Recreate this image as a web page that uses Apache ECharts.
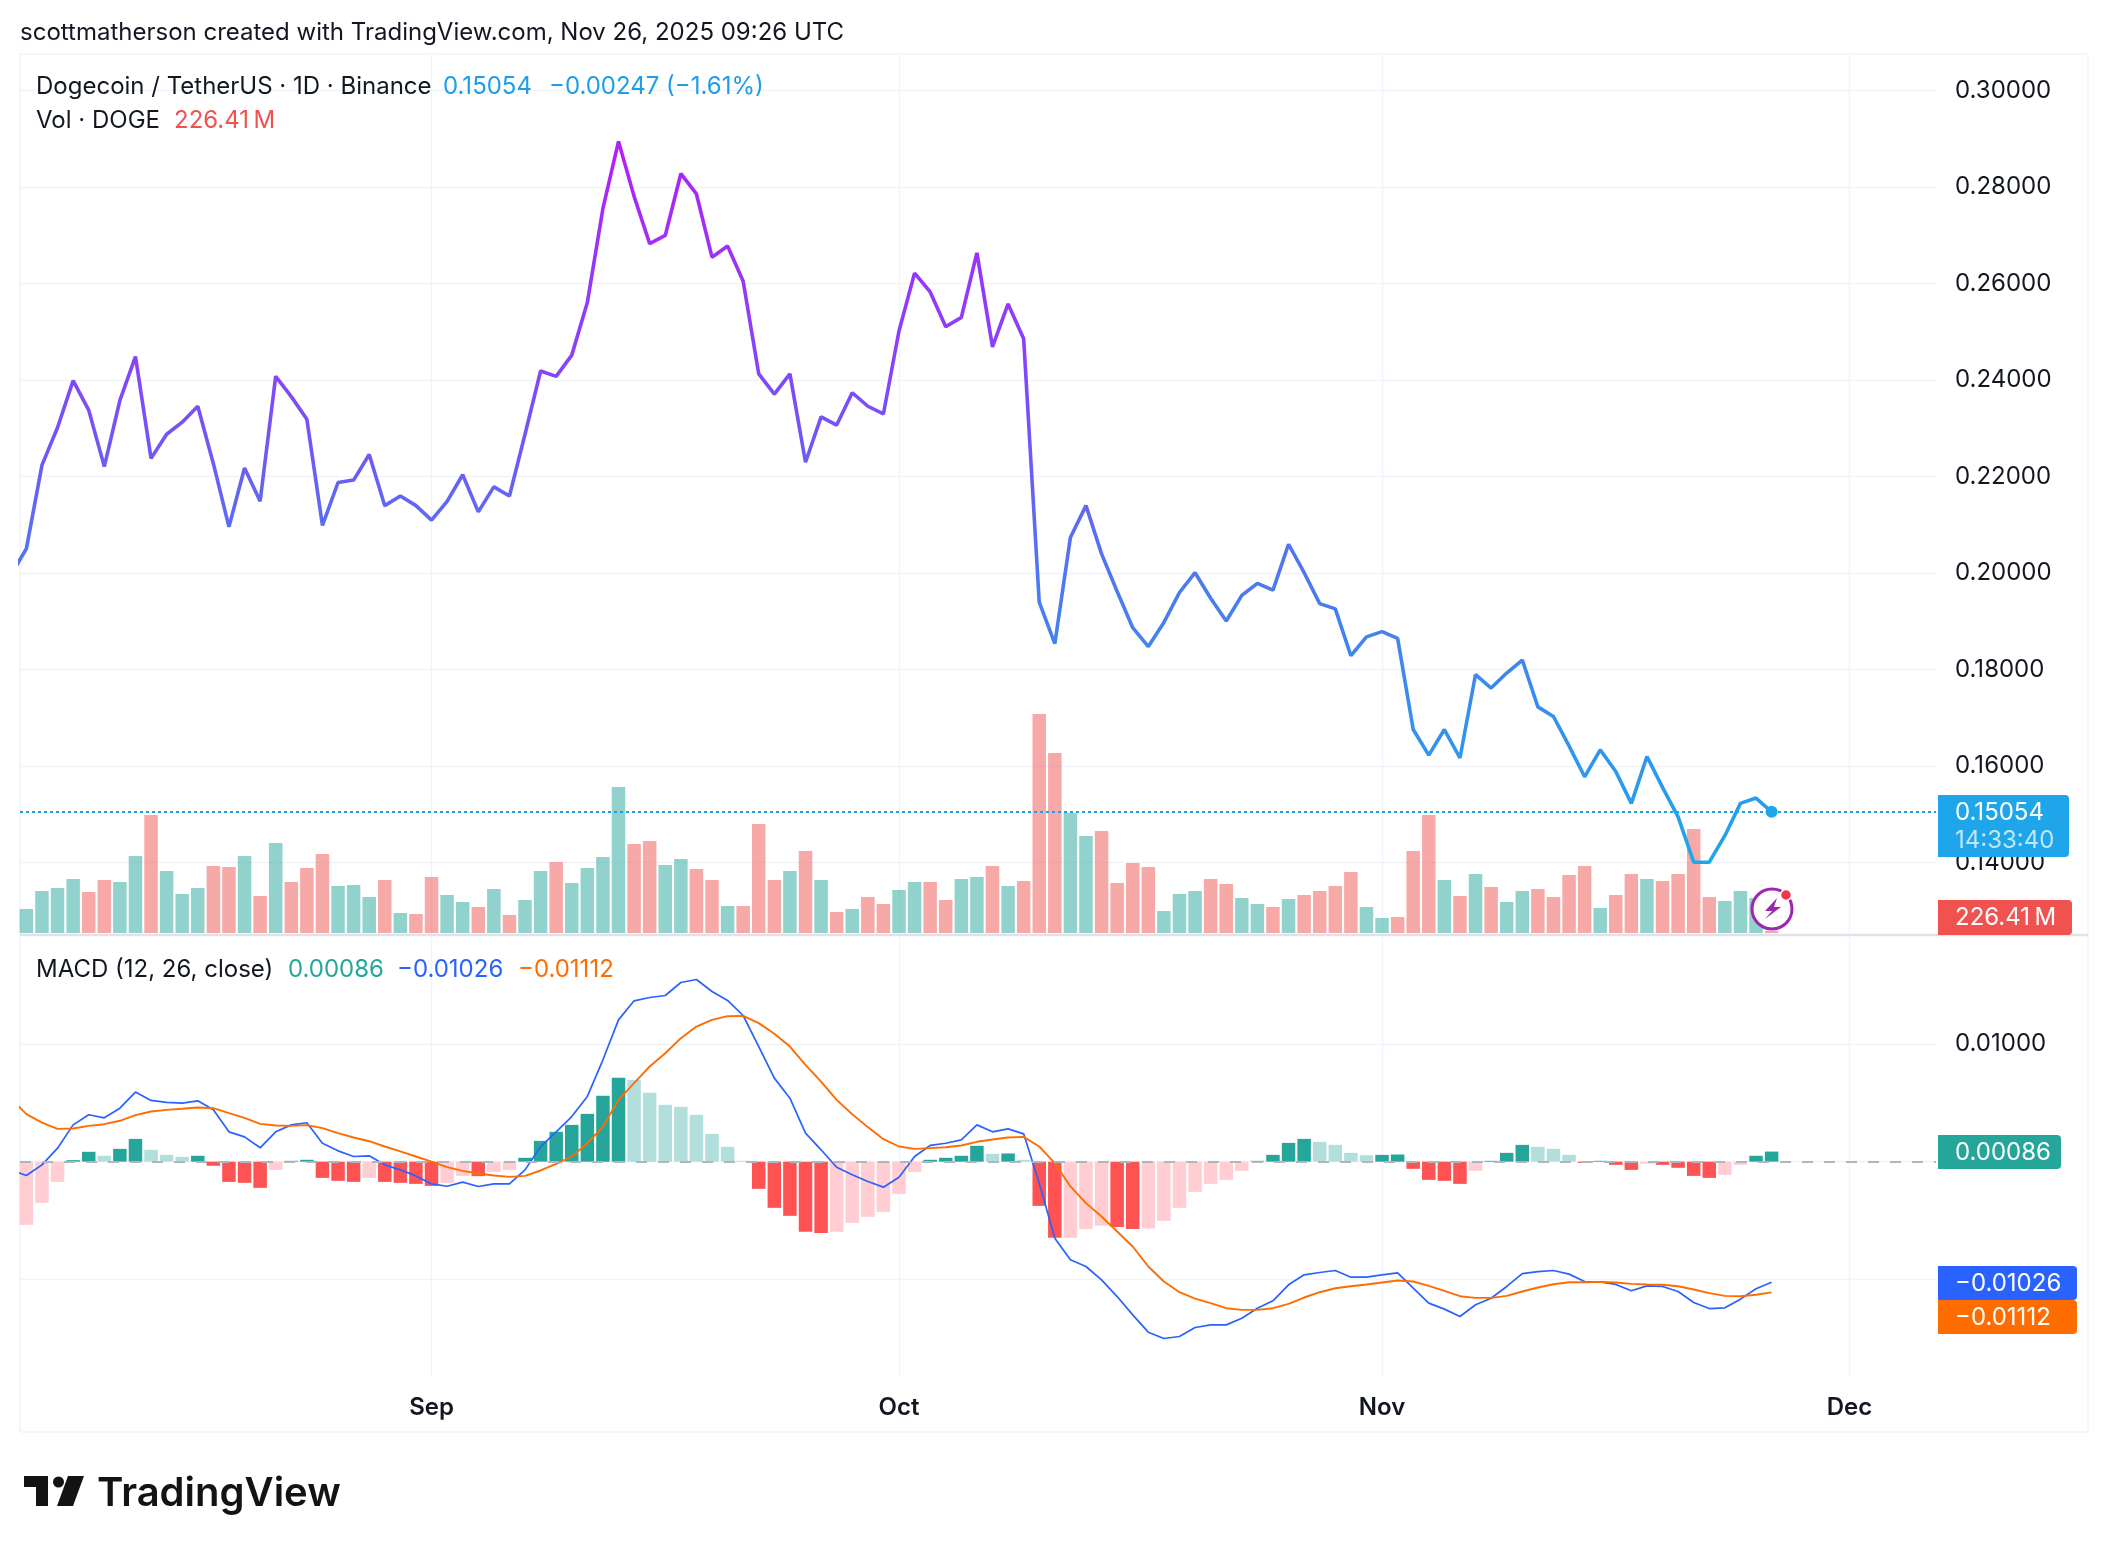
<!DOCTYPE html>
<html>
<head>
<meta charset="utf-8">
<title>DOGEUSDT</title>
<script src="https://cdn.jsdelivr.net/npm/echarts@6/dist/echarts.min.js"></script>
<style>
  html, body { margin: 0; padding: 0; background: #ffffff; }
  #chart { width: 2108px; height: 1552px; }
</style>
</head>
<body>
<div id="chart"></div>
<script>
// daily closes, first entry is the day just left of the visible range
const closes = [
  0.1996, 0.2051, 0.2224, 0.2302, 0.2399, 0.2338, 0.2221, 0.2358, 0.2449, 0.2238,
  0.2288, 0.2313, 0.2346, 0.2227, 0.2096, 0.2218, 0.2149, 0.2408, 0.2366, 0.2319,
  0.2099, 0.2188, 0.2193, 0.2246, 0.2140, 0.2160, 0.2140, 0.2110, 0.2149, 0.2204,
  0.2127, 0.2179, 0.2160, 0.2288, 0.2419, 0.2408, 0.2452, 0.2561, 0.2756, 0.2895,
  0.2781, 0.2683, 0.2700, 0.2828, 0.2786, 0.2655, 0.2678, 0.2605, 0.2413, 0.2371,
  0.2413, 0.2230, 0.2324, 0.2307, 0.2374, 0.2346, 0.2330, 0.2502, 0.2622, 0.2583,
  0.2511, 0.2530, 0.2664, 0.2469, 0.2558, 0.2486, 0.1940, 0.1854, 0.2074, 0.2140,
  0.2040, 0.1962, 0.1887, 0.1848, 0.1898, 0.1960, 0.2001, 0.1948, 0.1901, 0.1954,
  0.1979, 0.1965, 0.2060, 0.2001, 0.1937, 0.1926, 0.1829, 0.1868, 0.1879, 0.1865,
  0.1676, 0.1623, 0.1676, 0.1617, 0.1790, 0.1762, 0.1793, 0.1820, 0.1723, 0.1703,
  0.1642, 0.1578, 0.1634, 0.1589, 0.1523, 0.1620, 0.1556, 0.1495, 0.1401, 0.1401,
  0.1456, 0.1523, 0.1534, 0.15054
]

// volume in millions of DOGE
const volumes = [
  3000, 2736, 4788, 5130, 6156, 4674, 6042, 5814, 8778, 13452,
  7068, 4446, 5130, 7638, 7524, 8778, 4218, 10260, 5814, 7410,
  9006, 5358, 5472, 4104, 6042, 2280, 2166, 6384, 4332, 3534,
  2964, 5016, 2052, 3762, 7068, 8094, 5700, 7410, 8664, 16644,
  10146, 10488, 7752, 8436, 7296, 6042, 3078, 3078, 12426, 6042,
  7068, 9348, 6042, 2394, 2736, 4104, 3306, 4902, 5814, 5814,
  3762, 6156, 6384, 7638, 5358, 5928, 24966, 20520, 13680, 11058,
  11628, 5700, 7980, 7524, 2508, 4446, 4788, 6156, 5586, 3990,
  3306, 2964, 3876, 4332, 4788, 5358, 6954, 2964, 1710, 1824,
  9348, 13452, 6042, 4218, 6726, 5244, 3534, 4788, 5016, 4104,
  6612, 7638, 2850, 4332, 6726, 6156, 5928, 6726, 11856, 4104,
  3648, 4788, 3990, 226.41
]

const macdHist = [
  -0.00594, -0.00538, -0.00350, -0.00172, 0.00013, 0.00084, 0.00050, 0.00109, 0.00194, 0.00101,
  0.00058, 0.00041, 0.00050, -0.00035, -0.00172, -0.00180, -0.00223, -0.00070, 0.00007, 0.00016,
  -0.00138, -0.00163, -0.00172, -0.00138, -0.00172, -0.00180, -0.00189, -0.00206, -0.00180, -0.00121,
  -0.00123, -0.00087, -0.00070, 0.00033, 0.00177, 0.00254, 0.00313, 0.00407, 0.00560, 0.00714,
  0.00696, 0.00586, 0.00484, 0.00467, 0.00399, 0.00237, 0.00126, 0.00007, -0.00231, -0.00393,
  -0.00461, -0.00597, -0.00606, -0.00597, -0.00521, -0.00470, -0.00427, -0.00274, -0.00087, 0.00016,
  0.00033, 0.00050, 0.00135, 0.00067, 0.00070, 0.00016, -0.00376, -0.00648, -0.00647, -0.00572,
  -0.00546, -0.00555, -0.00572, -0.00569, -0.00504, -0.00393, -0.00257, -0.00189, -0.00155, -0.00078,
  0.00007, 0.00058, 0.00160, 0.00194, 0.00169, 0.00143, 0.00075, 0.00055, 0.00058, 0.00061,
  -0.00061, -0.00155, -0.00163, -0.00189, -0.00078, 0.00007, 0.00075, 0.00143, 0.00126, 0.00109,
  0.00058, -0.00010, 0.00007, -0.00027, -0.00070, -0.00018, -0.00027, -0.00052, -0.00121, -0.00138,
  -0.00112, -0.00027, 0.00050, 0.00086
]

const macdLine = [
  -0.00070, -0.00118, -0.00027, 0.00115, 0.00313, 0.00399, 0.00373, 0.00455, 0.00592, 0.00521,
  0.00504, 0.00498, 0.00518, 0.00441, 0.00254, 0.00211, 0.00118, 0.00254, 0.00313, 0.00331,
  0.00157, 0.00092, 0.00044, 0.00050, -0.00027, -0.00070, -0.00121, -0.00189, -0.00209, -0.00174,
  -0.00211, -0.00189, -0.00189, -0.00070, 0.00129, 0.00254, 0.00384, 0.00555, 0.00867, 0.01207,
  0.01369, 0.01397, 0.01414, 0.01525, 0.01550, 0.01448, 0.01372, 0.01244, 0.00980, 0.00711,
  0.00540, 0.00243, 0.00101, -0.00047, -0.00112, -0.00169, -0.00217, -0.00132, 0.00044, 0.00138,
  0.00157, 0.00186, 0.00313, 0.00254, 0.00279, 0.00237, -0.00183, -0.00651, -0.00835, -0.00892,
  -0.01006, -0.01148, -0.01304, -0.01451, -0.01505, -0.01488, -0.01411, -0.01389, -0.01389, -0.01332,
  -0.01247, -0.01184, -0.01048, -0.00963, -0.00943, -0.00926, -0.00983, -0.00983, -0.00963, -0.00946,
  -0.01077, -0.01204, -0.01255, -0.01318, -0.01218, -0.01162, -0.01062, -0.00952, -0.00935, -0.00926,
  -0.00957, -0.01020, -0.01023, -0.01045, -0.01099, -0.01057, -0.01062, -0.01105, -0.01199, -0.01250,
  -0.01244, -0.01170, -0.01082, -0.01026
]

const signalLine = [
  0.00540, 0.00404, 0.00333, 0.00279, 0.00282, 0.00305, 0.00319, 0.00348, 0.00396, 0.00427,
  0.00441, 0.00450, 0.00461, 0.00455, 0.00413, 0.00373, 0.00322, 0.00308, 0.00305, 0.00311,
  0.00285, 0.00243, 0.00206, 0.00174, 0.00129, 0.00087, 0.00044, 0.00001, -0.00047, -0.00078,
  -0.00101, -0.00118, -0.00129, -0.00121, -0.00075, -0.00018, 0.00044, 0.00157, 0.00299, 0.00526,
  0.00668, 0.00810, 0.00923, 0.01051, 0.01150, 0.01207, 0.01238, 0.01241, 0.01179, 0.01088,
  0.00980, 0.00824, 0.00682, 0.00526, 0.00404, 0.00294, 0.00191, 0.00129, 0.00109, 0.00115,
  0.00123, 0.00138, 0.00169, 0.00189, 0.00206, 0.00211, 0.00129, -0.00013, -0.00211, -0.00353,
  -0.00467, -0.00594, -0.00722, -0.00892, -0.01020, -0.01111, -0.01165, -0.01204, -0.01247, -0.01261,
  -0.01261, -0.01247, -0.01210, -0.01156, -0.01111, -0.01077, -0.01060, -0.01045, -0.01028, -0.01011,
  -0.01020, -0.01057, -0.01099, -0.01145, -0.01159, -0.01159, -0.01142, -0.01105, -0.01071, -0.01043,
  -0.01026, -0.01026, -0.01023, -0.01028, -0.01040, -0.01045, -0.01048, -0.01060, -0.01088, -0.01119,
  -0.01142, -0.01145, -0.01133, -0.01112
]

const priceTicks = [0.14, 0.16, 0.18, 0.2, 0.22, 0.24, 0.26, 0.28, 0.3]
const macdTicks = [-0.01, 0, 0.01]
const monthTicks = [27, 57, 88, 118]  // index of the 1st of each month
const monthLabels = ['Sep', 'Oct', 'Nov', 'Dec']

const lastPrice = 0.15054
const FONT = 'Inter, "Noto Sans", sans-serif'
const INK = '#131722'
const GRID_COLOR = '#f0f3fa'
const UP_VOL = 'rgba(38, 166, 154, 0.5)'
const DOWN_VOL = 'rgba(239, 83, 80, 0.5)'

// pane layout
const plotLeft = 20
const plotRight = 1936
const outerRight = 2088
const paneTop = 54
const paneSplit = 935
const macdBottom = 1376
const pageBottom = 1432

const withIndex = (values) => values.map((v, i) => [i, v])

function xAxisFor(gridIndex, showLabels) {
  return {
    type: 'value',
    gridIndex,
    min: 0.59,
    max: 123.55,
    axisLine: { show: false },
    axisTick: { show: false, customValues: monthTicks },
    axisLabel: {
      show: showLabels,
      customValues: monthTicks,
      margin: 20,
      color: INK,
      fontFamily: FONT,
      fontSize: 24,
      fontWeight: 600,
      formatter: (v) => monthLabels[monthTicks.indexOf(v)] || ''
    },
    splitLine: { show: true, lineStyle: { color: GRID_COLOR, width: 1.4 } }
  }
}

function yAxisFor(gridIndex, min, max, ticks) {
  return {
    type: 'value',
    gridIndex,
    position: 'right',
    min,
    max,
    axisLine: { show: false },
    axisTick: { show: false, customValues: ticks },
    axisLabel: {
      customValues: ticks,
      margin: 19,
      padding: [6, 0, 0, 0],
      color: INK,
      fontFamily: FONT,
      fontSize: 24,
      formatter: (v) => v.toFixed(5)
    },
    splitLine: { show: true, lineStyle: { color: GRID_COLOR, width: 1.4 } }
  }
}

function histColor(params) {
  const i = params.value[0]
  const v = macdHist[i]
  const prev = macdHist[i - 1]
  if (v >= 0) return v > prev ? '#26a69a' : '#b2dfdb'
  return v < prev ? '#ff5252' : '#ffcdd2'
}

function volColor(params) {
  const i = params.value[0]
  return closes[i] > closes[i - 1] ? UP_VOL : DOWN_VOL
}

function txt(text, x, y, fill, extra) {
  return {
    type: 'text',
    z: 200,
    x,
    y,
    style: Object.assign({
      text,
      fill,
      font: '24px ' + FONT,
      textVerticalAlign: 'middle'
    }, extra || {})
  }
}

function tag(x2, y1, y2, fill) {
  return {
    type: 'rect',
    z: 150,
    shape: { x: 1938, y: y1, width: x2 - 1938, height: y2 - y1, r: [0, 4, 4, 0] },
    style: { fill }
  }
}

function frameLine(x1, y1, x2, y2, stroke, lineWidth) {
  return {
    type: 'line',
    z: 1,
    silent: true,
    shape: { x1, y1, x2, y2 },
    style: { stroke, lineWidth }
  }
}

const graphicItems = [
  // frame
  frameLine(plotLeft, paneTop, outerRight, paneTop, GRID_COLOR, 1.5),
  frameLine(plotLeft, paneTop, plotLeft, pageBottom, GRID_COLOR, 1.5),
  frameLine(outerRight, paneTop, outerRight, pageBottom, GRID_COLOR, 1.5),
  frameLine(plotLeft, pageBottom, outerRight, pageBottom, GRID_COLOR, 1.5),
  frameLine(plotLeft, paneSplit, outerRight, paneSplit, '#e0e3eb', 2.5),

  // header and legends
  txt('scottmatherson created with TradingView.com, Nov 26, 2025 09:26 UTC', 20, 33, INK),
  txt('Dogecoin / TetherUS · 1D · Binance', 36, 86.5, INK),
  txt('0.15054', 443, 86.5, '#1e9de8'),
  txt('−0.00247 (−1.61%)', 549, 86.5, '#1e9de8'),
  txt('Vol · DOGE', 36, 121, INK),
  txt('226.41\u2009M', 174, 121, '#f0534f'),
  txt('MACD (12, 26, close)', 36, 969.5, INK),
  txt('0.00086', 288, 969.5, '#26a69a'),
  txt('−0.01026', 397, 969.5, '#2962ff'),
  txt('−0.01112', 518, 969.5, '#ff6d00'),

  // price scale tags
  tag(2069, 795, 857, '#1ea5ea'),
  txt('0.15054', 1955, 813, '#ffffff'),
  txt('14:33:40', 1955, 841, 'rgba(255,255,255,0.72)'),
  tag(2072, 900, 935, '#f0534f'),
  txt('226.41\u2009M', 1955, 918, '#ffffff'),
  tag(2061, 1135, 1169, '#26a69a'),
  txt('0.00086', 1955, 1153, '#ffffff'),
  tag(2077, 1266, 1300, '#2962ff'),
  txt('−0.01026', 1955, 1284, '#ffffff'),
  tag(2077, 1300, 1334, '#ff6d00'),
  txt('−0.01112', 1955, 1318, '#ffffff'),

  // lightning badge
  {
    type: 'circle', z: 160,
    shape: { cx: 1772, cy: 909, r: 20 },
    style: { fill: '#ffffff', stroke: '#9c27b0', lineWidth: 3 }
  },
  {
    type: 'polygon', z: 161,
    shape: { points: [[1777, 898], [1765, 911], [1772, 911], [1765, 919], [1781, 907], [1774, 907]] },
    style: { fill: '#9c27b0' }
  },
  {
    type: 'circle', z: 162,
    shape: { cx: 1786, cy: 895, r: 5.5 },
    style: { fill: '#f23645', stroke: '#ffffff', lineWidth: 1.5 }
  },

  // TradingView logo
  {
    type: 'polygon', z: 100,
    shape: { points: [[24, 1476], [48, 1476], [48, 1506], [36, 1506], [36, 1487], [24, 1487]] },
    style: { fill: '#131313' }
  },
  {
    type: 'circle', z: 100,
    shape: { cx: 58.5, cy: 1482, r: 5.5 },
    style: { fill: '#131313' }
  },
  {
    type: 'polygon', z: 100,
    shape: { points: [[68, 1476], [84, 1476], [73, 1506], [57, 1506]] },
    style: { fill: '#131313' }
  },
  txt('TradingView', 97, 1494, '#131313', { font: '600 40px ' + FONT })
]

const chart = echarts.init(document.getElementById('chart'), null, { renderer: 'canvas' })

chart.setOption({
  animation: false,
  backgroundColor: '#ffffff',
  textStyle: { fontFamily: FONT },
  graphic: graphicItems,
  grid: [
    { left: plotLeft, top: paneTop, width: plotRight - plotLeft, height: paneSplit - 1 - paneTop },
    { left: plotLeft, top: paneTop, width: plotRight - plotLeft, height: 879 },
    { left: plotLeft, top: paneSplit + 2, width: plotRight - plotLeft, height: macdBottom - paneSplit - 2 }
  ],
  xAxis: [
    xAxisFor(0, false),
    Object.assign(xAxisFor(1, false), { splitLine: { show: false } }),
    xAxisFor(2, true)
  ],
  yAxis: [
    yAxisFor(0, 0.12522, 0.30761, priceTicks),
    {
      type: 'value',
      gridIndex: 1,
      min: 0,
      max: 100200,
      axisLine: { show: false },
      axisTick: { show: false },
      axisLabel: { show: false },
      splitLine: { show: false }
    },
    yAxisFor(2, -0.01824, 0.01912, macdTicks)
  ],
  series: [
    {
      type: 'bar',
      name: 'Vol',
      xAxisIndex: 1,
      yAxisIndex: 1,
      z: 2,
      barWidth: 13.5,
      // the off-screen first day gets no bar
      data: withIndex(volumes).slice(1),
      itemStyle: { color: volColor }
    },
    {
      type: 'line',
      name: 'Close',
      xAxisIndex: 0,
      yAxisIndex: 0,
      z: 4,
      symbol: 'none',
      data: withIndex(closes),
      lineStyle: {
        width: 3.6,
        color: new echarts.graphic.LinearGradient(0, 0, 0, 1, [
          { offset: 0, color: '#b51ef8' },
          { offset: 0.33, color: '#8247fb' },
          { offset: 0.6, color: '#4f78f0' },
          { offset: 1, color: '#1da7ec' }
        ])
      },
      markLine: {
        silent: true,
        symbol: 'none',
        precision: 5,
        label: { show: false },
        lineStyle: { color: '#1e9de8', type: [3, 3], width: 2 },
        data: [{ yAxis: lastPrice }]
      },
      markPoint: {
        silent: true,
        symbol: 'circle',
        symbolSize: 12,
        itemStyle: { color: '#1ea5ea' },
        label: { show: false },
        data: [{ coord: [closes.length - 1, lastPrice] }]
      }
    },
    {
      type: 'bar',
      name: 'Histogram',
      xAxisIndex: 2,
      yAxisIndex: 2,
      z: 2,
      barWidth: 13.5,
      data: withIndex(macdHist).slice(1),
      itemStyle: { color: histColor },
      markLine: {
        silent: true,
        symbol: 'none',
        precision: 5,
        label: { show: false },
        lineStyle: { color: '#b2b5be', type: [11, 11], width: 2 },
        data: [{ yAxis: 0 }]
      }
    },
    {
      type: 'line',
      name: 'MACD',
      xAxisIndex: 2,
      yAxisIndex: 2,
      z: 4,
      symbol: 'none',
      data: withIndex(macdLine),
      lineStyle: { color: '#2962ff', width: 1.7 }
    },
    {
      type: 'line',
      name: 'Signal',
      xAxisIndex: 2,
      yAxisIndex: 2,
      z: 4,
      symbol: 'none',
      data: withIndex(signalLine),
      lineStyle: { color: '#ff6d00', width: 1.9 }
    }
  ]
})
</script>
</body>
</html>
